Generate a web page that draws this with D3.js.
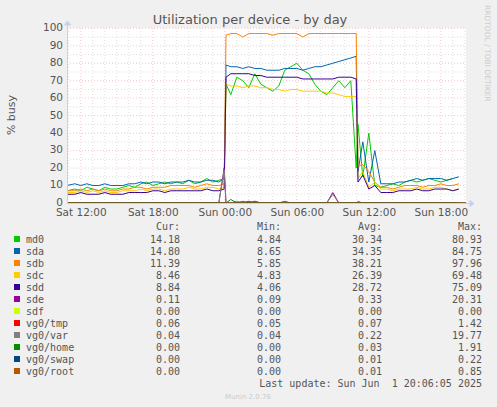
<!DOCTYPE html>
<html><head><meta charset="utf-8">
<script src="https://cdn.jsdelivr.net/npm/d3@7"></script>
<style>body{margin:0;background:#f0f0f0}svg{display:block}</style>
</head><body>
<script>
// hours since Sat 00:00
const times = [10.85,11.5,12,12.5,13,13.5,14,14.5,15,15.5,16,16.5,17,17.5,18,18.5,19,19.5,20,20.5,21,21.5,22,22.5,23,23.5,23.95,
  24.1,24.5,25,25.5,26,26.5,27,27.5,28,28.5,29,29.5,30,30.5,31,31.5,32,32.5,33,33.5,34,34.5,34.95,
  35.1,35.5,36,36.5,37,37.5,38,38.5,39,39.5,40,40.5,41,41.5,42,42.5,43,43.5,44.1];

const names = ["md0","sda","sdb","sdc","sdd","sde","sdf","vg0/tmp","vg0/var","vg0/home","vg0/swap","vg0/root"];
const colors = ["#00cc00","#0066b3","#ff8000","#ffcc00","#330099","#990099","#ccff00","#ff0000","#808080","#008f00","#00487d","#b35a00"];
const cur = ["14.18","14.80","11.39","8.46","8.84","0.11","0.00","0.06","0.04","0.00","0.00","0.00"];
const min = ["4.84","8.65","5.85","4.83","4.06","0.09","0.00","0.05","0.04","0.00","0.00","0.00"];
const avg = ["30.34","34.35","38.21","26.39","28.72","0.33","0.00","0.07","0.22","0.03","0.01","0.01"];
const max = ["80.93","84.75","97.96","69.48","75.09","20.31","0.00","1.42","19.77","1.91","0.22","0.85"];

const md0 = [7,8,7,9,8,7,9,8,8,9,10,9,11,12,10,11,12,11,12,11,13,11,12,14,12,13,14,
  68,62,72,70,66,74,68,66,64,67,76,78,80,76,74,68,64,62,66,70,66,70,
  20,45,15,40,10,9,10,11,10,12,13,12,13,14,13,12,13,14];
const sda = [10,11,10,11,10,10,11,10,10,10,11,11,12,11,12,12,11,12,12,12,13,12,12,13,13,12,14,
  79,78,78,77,78,77,77,76,76,76,77,77,77,76,77,78,78,79,80,81,82,83,84,
  18,35,12,30,11,11,11,12,12,13,14,13,14,14,14,13,14,15];
const sdb = [7,7,8,7,8,7,8,7,7,8,8,9,9,8,9,9,9,10,10,10,10,9,10,11,10,10,11,
  96,97,97,95,97,97,97,97,96,97,97,97,97,95,97,97,97,97,97,97,97,97,97,
  21,22,18,12,9,9,8,9,10,10,10,9,10,10,11,10,10,11];
const sdc = [6,6,7,6,7,6,7,6,6,7,7,7,8,7,8,8,7,8,8,8,9,8,8,9,9,8,9,
  68,67,67,66,67,67,66,66,65,65,64,65,65,64,64,64,64,63,63,62,61,61,61,
  14,18,9,12,8,8,7,8,8,8,9,8,8,9,9,8,7,8];
const sdd = [5,5,6,5,5,5,6,5,5,5,6,6,6,6,7,7,6,7,7,7,7,7,7,8,7,7,8,
  72,74,74,74,74,73,73,72,72,72,72,72,72,71,71,71,71,71,71,72,72,72,71,
  12,16,8,10,6,6,6,7,7,7,8,7,7,8,8,8,7,8];
const sde = [0,0,0,0,0,0,0,0,0,0,0,0,0,0,0,0,0,0,0,0,0,0,0,0,0,0,20,
  0,0,0,0,1,0,0,0,0,0,0,0,0,0,0,0,0,0,6,0,0,0,0,
  0,0,0,0,0,0,0,0,0,0,0,0,0,0,0,0,0,0];
const flat = times.map(() => 0);
const vgvar = [0,0,0,0,0,0,0,0,0,0,0,0,0,0,0,0,0,0,0,0,0,0,0,0,0,0,19,
  0,0,1,0,0,1,0,0,0,0,0,0,0,0,0,0,0,0,5,0,0,0,0,
  1,0,0,0,0,0,0,0,0,0,0,0,0,0,0,0,0,0];
const vghome = [0,0,0,0,0,0,0,0,0,0,0,0,0,0,0,0,0,0,0,0,0,0,0,0,0,0,0,
  0,2,0,1,0,1,0,0,0,0,1,0,0,0,0,0,0,0,0,0,0,0,0,
  0,0,0,0,0,0,0,0,0,0,0,0,0,0,0,0,0,0];
const series = [md0, sda, sdb, sdc, sdd, sde, flat, flat, vgvar, vghome, flat, flat];

const xTicks = [12, 18, 24, 30, 36, 42];
const xTickLabels = ["Sat 12:00","Sat 18:00","Sun 00:00","Sun 06:00","Sun 12:00","Sun 18:00"];

const W = 497, H = 407;
const svg = d3.select("body").append("svg").attr("width", W).attr("height", H)
  .style("font-family", "DejaVu Sans");

const x = d3.scaleLinear().domain([10.85, 44.1]).range([67, 466]);
const y = d3.scaleLinear().domain([0, 100]).range([203, 28.3]);

svg.append("rect").attr("x", 67).attr("y", 28).attr("width", 399).attr("height", 175).attr("fill", "#fff");

// minor grid
const g = svg.append("g").attr("stroke-width", 0.6).attr("stroke-dasharray", "1,2");
d3.range(11, 45).filter(h => h % 6 !== 0).forEach(h =>
  g.append("line").attr("x1", x(h)).attr("x2", x(h)).attr("y1", 28).attr("y2", 203).attr("stroke", "#c8c8c8"));
d3.range(5, 100, 10).forEach(v =>
  g.append("line").attr("x1", 67).attr("x2", 466).attr("y1", y(v)).attr("y2", y(v)).attr("stroke", "#c8c8c8"));
xTicks.forEach(h =>
  g.append("line").attr("x1", x(h)).attr("x2", x(h)).attr("y1", 28).attr("y2", 203).attr("stroke", "#e8a0a0"));
d3.range(10, 101, 10).forEach(v =>
  g.append("line").attr("x1", 67).attr("x2", 466).attr("y1", y(v)).attr("y2", y(v)).attr("stroke", "#e8a0a0"));

// lines
const line = d3.line().x((d, i) => x(times[i])).y(d => y(d));
series.forEach((s, i) => {
  svg.append("path").datum(s).attr("d", line).attr("fill", "none")
    .attr("stroke", colors[i]).attr("stroke-width", 1);
});

// axes
const ax = svg.append("g").attr("stroke", "#c8d0f0").attr("fill", "#c8d0f0");
ax.append("line").attr("x1", 67).attr("x2", 470).attr("y1", 203.5).attr("y2", 203.5);
ax.append("path").attr("d", "M470,200.5 L474,203.5 L470,206.5 Z");
ax.append("line").attr("x1", 67.5).attr("x2", 67.5).attr("y1", 203).attr("y2", 25);
ax.append("path").attr("d", "M64.5,25 L67.5,21 L70.5,25 Z");

const yAxis = d3.axisLeft(y).tickValues(d3.range(0, 101, 10)).tickSize(0).tickPadding(4);
svg.append("g").attr("transform", "translate(67,-1)").call(yAxis)
  .call(s => s.select(".domain").remove())
  .selectAll("text").attr("fill", "#555").style("font-size", "10.5px").style("font-family", "DejaVu Sans");
const xAxis = d3.axisBottom(x).tickValues(xTicks).tickFormat((d, i) => xTickLabels[i]).tickSize(0).tickPadding(5);
svg.append("g").attr("transform", "translate(0,204)").call(xAxis)
  .call(s => s.select(".domain").remove())
  .selectAll("text").attr("fill", "#555").style("font-size", "10.5px").style("font-family", "DejaVu Sans");

svg.append("text").attr("x", 250).attr("y", 24).attr("text-anchor", "middle")
  .attr("fill", "#555").style("font-size", "13px").text("Utilization per device - by day");
svg.append("text").attr("transform", "translate(15,115) rotate(-90)").attr("text-anchor", "middle")
  .attr("fill", "#555").style("font-size", "11px").text("% busy");
svg.append("text").attr("transform", "translate(484.5,5) rotate(90)")
  .attr("fill", "#ccc").style("font-size", "7.5px").text("RRDTOOL / TOBI OETIKER");

// legend
const mono = "DejaVu Sans Mono";
const leg = svg.append("g").style("font-family", mono).style("font-size", "10px").attr("fill", "#555");
const cols = [180, 281, 382, 482];
["Cur:", "Min:", "Avg:", "Max:"].forEach((t, j) =>
  leg.append("text").attr("x", cols[j]).attr("y", 230).attr("text-anchor", "end").text(t));
names.forEach((n, i) => {
  const yy = 243 + i * 12;
  leg.append("rect").attr("x", 14).attr("y", yy - 7).attr("width", 6).attr("height", 6).attr("fill", colors[i]);
  leg.append("text").attr("x", 26).attr("y", yy).text(n);
  [cur, min, avg, max].forEach((arr, j) =>
    leg.append("text").attr("x", cols[j]).attr("y", yy).attr("text-anchor", "end").text(arr[i]));
});
leg.append("text").attr("x", 482).attr("y", 387).attr("text-anchor", "end").text("Last update: Sun Jun  1 20:06:05 2025")
  .attr("xml:space", "preserve").style("white-space", "pre");
svg.append("text").attr("x", 248).attr("y", 399).attr("text-anchor", "middle")
  .attr("fill", "#ccc").style("font-size", "7px").text("Munin 2.0.76");
</script>
</body></html>
